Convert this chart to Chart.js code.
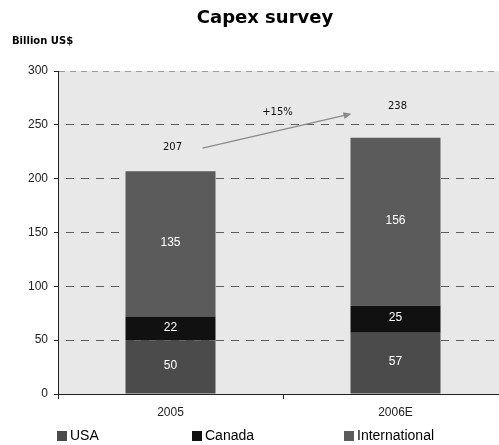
<!DOCTYPE html>
<html>
<head>
<meta charset="utf-8">
<script src="https://cdn.jsdelivr.net/npm/chart.js@4/dist/chart.umd.min.js"></script>
<style>
  html, body { margin: 0; padding: 0; background: #ffffff; }
  #wrap { position: relative; width: 499px; height: 445px; overflow: hidden; }
  #wrap canvas { display: block; }
</style>
</head>
<body>
<div id="wrap"><canvas id="c" width="508" height="445"></canvas></div>
<script>
// Capex by region, billion US$
const categories = ['2005', '2006E'];
const usa = [50, 57];
const canada = [22, 25];
const international = [135, 156];
const seriesNames = ['USA', 'Canada', 'International'];
const yTicks = [0, 50, 100, 150, 200, 250, 300];

const colors = ['#4b4b4b', '#111111', '#5b5b5b'];
const sansFont = '"Liberation Sans", Arial, sans-serif';
const verdanaLike = '"DejaVu Sans", Verdana, sans-serif';

// how far above each bar its total is written (px)
const totalLift = [24, 31];

const overlay = {
  id: 'overlay',
  beforeDraw(chart) {
    const { ctx, chartArea: a } = chart;
    ctx.save();
    ctx.fillStyle = '#e8e8e8';
    ctx.fillRect(a.left, a.top, a.right - a.left, a.bottom - a.top);
    ctx.restore();
  },
  afterDatasetsDraw(chart) {
    const { ctx } = chart;
    const yScale = chart.scales.y;
    const xScale = chart.scales.x;
    ctx.save();
    ctx.textAlign = 'center';
    ctx.textBaseline = 'middle';

    // segment values inside bars
    ctx.font = '12px ' + sansFont;
    ctx.fillStyle = '#ffffff';
    chart.data.datasets.forEach((ds, di) => {
      const meta = chart.getDatasetMeta(di);
      meta.data.forEach((bar, i) => {
        const c = bar.getCenterPoint();
        ctx.fillText(String(ds.data[i]), c.x, c.y - 1);
      });
    });

    // totals above bars
    const totals = categories.map((_, i) => usa[i] + canada[i] + international[i]);
    ctx.font = '10px ' + verdanaLike;
    ctx.fillStyle = '#111111';
    totals.forEach((t, i) => {
      const x = xScale.getPixelForValue(i) + 2;
      const y = yScale.getPixelForValue(t) - totalLift[i];
      ctx.fillText(String(t), x, y);
    });

    // growth arrow between the two totals
    const x0 = xScale.getPixelForValue(0) + 32;
    const y0 = yScale.getPixelForValue(totals[0]) - 23;
    const x1 = xScale.getPixelForValue(1) - 44;
    const y1 = yScale.getPixelForValue(totals[1]) - 24;
    ctx.strokeStyle = '#8a8a8a';
    ctx.fillStyle = '#8a8a8a';
    ctx.lineWidth = 1.3;
    ctx.beginPath();
    ctx.moveTo(x0, y0);
    ctx.lineTo(x1 - 6, y1 + 1.4);
    ctx.stroke();
    const ang = Math.atan2(y1 - y0, x1 - x0);
    ctx.beginPath();
    ctx.moveTo(x1, y1);
    ctx.lineTo(x1 - 8 * Math.cos(ang) + 3.5 * Math.sin(ang), y1 - 8 * Math.sin(ang) - 3.5 * Math.cos(ang));
    ctx.lineTo(x1 - 8 * Math.cos(ang) - 3.5 * Math.sin(ang), y1 - 8 * Math.sin(ang) + 3.5 * Math.cos(ang));
    ctx.closePath();
    ctx.fill();

    const growth = Math.round((totals[1] / totals[0] - 1) * 100);
    ctx.fillStyle = '#111111';
    ctx.font = '10px ' + verdanaLike;
    ctx.fillText('+' + growth + '%', (x0 + x1) / 2 + 0.5, y1 - 1);
    ctx.restore();
  },
  afterDraw(chart) {
    const { ctx } = chart;
    ctx.save();
    // title and unit
    ctx.fillStyle = '#000000';
    ctx.textBaseline = 'middle';
    ctx.textAlign = 'center';
    ctx.font = 'bold 18px ' + verdanaLike;
    ctx.fillText('Capex survey', 265, 18);
    ctx.textAlign = 'left';
    ctx.font = 'bold 10px ' + verdanaLike;
    ctx.fillText('Billion US$', 12, 41);

    // legend row
    const legendX = [57, 192, 344];
    ctx.font = '14px ' + sansFont;
    seriesNames.forEach((name, i) => {
      ctx.fillStyle = colors[i];
      ctx.fillRect(legendX[i], 431, 10, 10);
      ctx.fillStyle = '#000000';
      ctx.fillText(name, legendX[i] + 13, 436);
    });
    ctx.restore();
  }
};

const isTop = (c) => c.tick && c.tick.value === 300;

new Chart(document.getElementById('c'), {
  type: 'bar',
  data: {
    labels: categories,
    datasets: [
      { label: seriesNames[0], data: usa, backgroundColor: colors[0] },
      { label: seriesNames[1], data: canada, backgroundColor: colors[1] },
      { label: seriesNames[2], data: international, backgroundColor: colors[2] }
    ]
  },
  options: {
    responsive: false,
    animation: false,
    devicePixelRatio: 1,
    layout: { padding: { top: 71, left: 0, right: 0, bottom: 25 } },
    datasets: { bar: { barPercentage: 0.4, categoryPercentage: 1.0, borderWidth: 0 } },
    plugins: {
      legend: { display: false },
      title: { display: false },
      tooltip: { enabled: false }
    },
    scales: {
      x: {
        stacked: true,
        offset: true,
        grid: { display: true, drawOnChartArea: false, offset: true, tickLength: 5, color: '#222222', tickColor: '#222222' },
        border: { display: true, color: '#222222', width: 1 },
        ticks: { color: '#222222', font: { family: sansFont, size: 12 }, padding: 6 },
        afterFit(scale) { scale.height = 26; }
      },
      y: {
        stacked: true,
        min: 0,
        max: 300,
        afterBuildTicks(scale) { scale.ticks = yTicks.map(v => ({ value: v })); },
        grid: {
          color: (c) => isTop(c) ? '#9a9a9a' : '#5e5e5e',
          tickColor: '#222222',
          tickLength: 4,
          lineWidth: 1
        },
        border: {
          display: true,
          color: '#222222',
          width: 1,
          dash: (c) => isTop(c) ? [6, 5] : [8, 7],
          dashOffset: (c) => isTop(c) ? 0 : 8
        },
        ticks: { color: '#222222', font: { family: sansFont, size: 12 }, padding: 6 },
        afterFit(scale) { scale.width = 58; }
      }
    }
  },
  plugins: [overlay]
});
</script>
</body>
</html>
